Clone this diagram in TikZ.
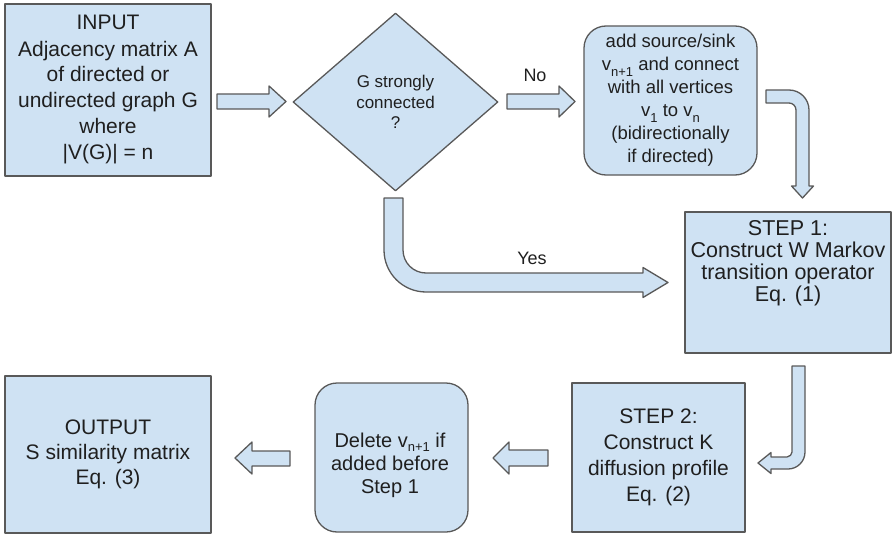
\documentclass[tikz,border=0pt]{standalone}
\usepackage{fontspec}
\setmainfont{Liberation Sans}
\usetikzlibrary{shapes.geometric}
\definecolor{boxblue}{HTML}{CFE2F3}
\definecolor{edgegray}{HTML}{595959}
\definecolor{txt}{HTML}{1F1F1F}
\newcommand{\lowsub}[3]{\raisebox{#1}{\fontsize{#2}{#2}\selectfont #3}}
\begin{document}
\begin{tikzpicture}[x=1pt,y=-1pt,
  shapebase/.style={fill=boxblue, draw=edgegray, line width=1.3pt, line join=round},
  flowbox/.style={shapebase, rectangle, inner sep=0pt, text=txt, align=center},
  roundbox/.style={flowbox, rounded corners=22pt},
  decision/.style={shapebase, diamond, inner sep=0pt, text=txt, align=center},
  plaintext/.style={inner sep=0pt, text=txt, align=center},
  blockarrow/.style={shapebase},
  lbl/.style={inner sep=0pt, text=txt, font=\fontsize{18}{20}\selectfont}]
\useasboundingbox (0,0) rectangle (892,535);

% nodes
\node[flowbox, minimum width=206pt, minimum height=172pt,
      font=\fontsize{21}{26}\selectfont] (input) at (108,90)
  {INPUT\\Adjacency matrix A\\of directed or\\undirected graph G\\where\\|V(G)| = n};

\node[decision, minimum width=205pt, minimum height=178pt,
      font=\fontsize{17}{20.5}\selectfont] (dec) at (395.5,102)
  {G strongly\\connected\\?};

\node[roundbox, minimum width=173pt, minimum height=149pt,
      font=\fontsize{18.5}{23}\selectfont] (add) at (670.5,100.5)
  {add source/sink\\v\lowsub{-0.3em}{13}{n+1} and connect\\with all vertices\\v\lowsub{-0.3em}{13}{1} to v\lowsub{-0.3em}{13}{n}\\(bidirectionally\\if directed)};

\node[flowbox, minimum width=206pt, minimum height=141pt] (step1) at (788,282.5) {};
\node[plaintext, font=\fontsize{21.5}{22}\selectfont] (step1txt) at (788,263)
  {STEP 1:\\Construct W Markov\\transition operator\\Eq. (1)};

\node[flowbox, minimum width=173pt, minimum height=149pt,
      font=\fontsize{21}{26}\selectfont] (step2) at (658.5,457.5)
  {STEP 2:\\Construct K\\diffusion profile\\Eq. (2)};

\node[roundbox, minimum width=153pt, minimum height=149pt] (del) at (391.5,457.5) {};
\node[plaintext, font=\fontsize{20}{23}\selectfont] (deltxt) at (390,465)
  {Delete v\lowsub{-0.22em}{13}{n+1} if\\added before\\Step 1};

\node[flowbox, minimum width=206pt, minimum height=157pt,
      font=\fontsize{21}{25}\selectfont] (output) at (108,454.5)
  {OUTPUT\\S similarity matrix\\Eq. (3)};

% block arrows
% input -> decision
\draw[blockarrow] (217,94) -- (269,94) -- (269,86) -- (286,101.5) -- (269,117) -- (269,109) -- (217,109) -- cycle;
% decision -> add (No)
\draw[blockarrow] (507,94) -- (559,94) -- (559,86) -- (575,101.5) -- (559,117) -- (559,109) -- (507,109) -- cycle;
\node[lbl] (nolbl) at (535,75) {No};
% add -> step1
\draw[blockarrow] (766,90) -- (789,90) .. controls (800.05,90) and (809,98.95) .. (809,110)
  -- (809,186) -- (813.5,186) -- (802.5,198) -- (791.5,186) -- (796,186) -- (796,110)
  .. controls (796,106.13) and (792.87,103) .. (789,103) -- (766,103) -- cycle;
% decision -> step1 (Yes)
\draw[blockarrow] (384,198) -- (403,198) -- (403,250) .. controls (403,262.7) and (413.3,273) .. (426,273)
  -- (643,273) -- (643,267.5) -- (668,282.5) -- (643,297.5) -- (643,292) -- (426,292)
  .. controls (402.8,292) and (384,273.2) .. (384,250) -- cycle;
\node[lbl] (yeslbl) at (532,258) {Yes};
% step1 -> step2
\draw[blockarrow] (792,366) -- (805,366) -- (805,452) .. controls (805,461.4) and (797.4,469) .. (788,469)
  -- (771,469) -- (771,473.5) -- (758,463) -- (771,452.5) -- (771,457) -- (787,457)
  .. controls (789.8,457) and (792,454.2) .. (792,452) -- cycle;
% step2 -> delete
\draw[blockarrow] (548,450) -- (509,450) -- (509,442) -- (493,458) -- (509,474) -- (509,466) -- (548,466) -- cycle;
% delete -> output
\draw[blockarrow] (290,451) -- (252,451) -- (252,442) -- (235,458) -- (252,474) -- (252,466) -- (290,466) -- cycle;
\end{tikzpicture}
\end{document}
